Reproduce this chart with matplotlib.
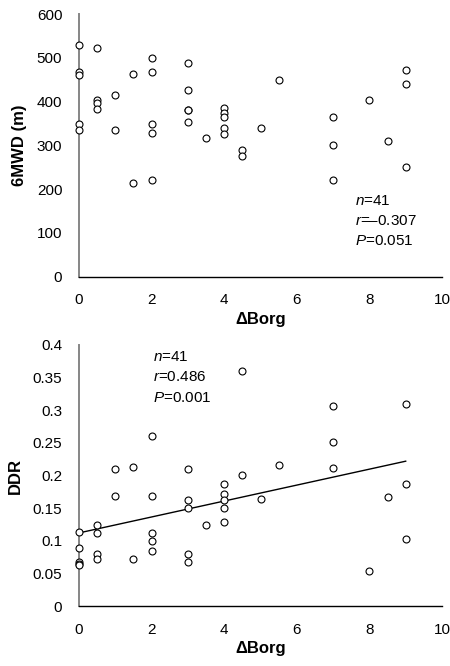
import numpy as np
import matplotlib
matplotlib.use("Agg")
import matplotlib.pyplot as plt

plt.rcParams['font.family'] = ['Liberation Sans', 'DejaVu Sans']
plt.rcParams['mathtext.fontset'] = 'custom'
plt.rcParams['mathtext.rm'] = 'Liberation Sans'
plt.rcParams['mathtext.it'] = 'Liberation Sans:italic'

# Top panel: delta Borg vs 6MWD
borg_top = [0, 0, 0, 0, 0,
            0.5, 0.5, 0.5, 0.5,
            1, 1,
            1.5, 1.5,
            2, 2, 2, 2, 2,
            3, 3, 3, 3, 3,
            3.5,
            4, 4, 4, 4, 4,
            4.5, 4.5,
            5,
            5.5,
            7, 7, 7,
            8,
            8.5,
            9, 9, 9]
mwd = [529, 468, 461, 349, 336,
       522, 404, 396, 382,
       414, 336,
       464, 215,
       499, 468, 349, 328, 222,
       488, 426, 381, 380, 353,
       317,
       385, 375, 364, 339, 325,
       289, 275,
       339,
       450,
       364, 301, 222,
       404,
       311,
       472, 439, 251]

# Bottom panel: delta Borg vs DDR
borg_bot = [0, 0, 0, 0, 0,
            0.5, 0.5, 0.5, 0.5,
            1, 1,
            1.5, 1.5,
            2, 2, 2, 2, 2,
            3, 3, 3, 3, 3,
            3.5,
            4, 4, 4, 4, 4,
            4.5, 4.5,
            5,
            5.5,
            7, 7, 7,
            8,
            8.5,
            9, 9, 9]
ddr = [0.114, 0.089, 0.068, 0.065, 0.063,
       0.124, 0.112, 0.080, 0.072,
       0.2095, 0.169,
       0.2135, 0.072,
       0.2605, 0.169, 0.112, 0.099, 0.084,
       0.2095, 0.162, 0.150, 0.080, 0.067,
       0.1236,
       0.1875, 0.172, 0.162, 0.150, 0.128,
       0.360, 0.201,
       0.1645,
       0.2156,
       0.3065, 0.2518, 0.2115,
       0.053,
       0.167,
       0.309, 0.1865, 0.1027]

top_stats = ['$\\mathit{n}$=41', '$\\mathit{r}$=\u20130.307', '$\\mathit{P}$=0.051']
bot_stats = ['$\\mathit{n}$=41', '$\\mathit{r}$=0.486', '$\\mathit{P}$=0.001']

W, H = 450, 666
fig = plt.figure(figsize=(W / 100, H / 100), dpi=100)

ax1 = fig.add_axes([79 / W, (H - 276.7) / H, (442 - 79) / W, (276.7 - 14) / H])
ax2 = fig.add_axes([79 / W, (H - 606) / H, (442 - 79) / W, (606 - 345) / H])


def style(ax):
    for s in ['top', 'right']:
        ax.spines[s].set_visible(False)
    ax.spines['left'].set_color('#868686')
    ax.spines['left'].set_linewidth(1.4)
    ax.spines['bottom'].set_color('black')
    ax.spines['bottom'].set_linewidth(1.0)
    ax.tick_params(length=0, labelsize=11, pad=12, colors='black')
    ax.set_xlim(0, 10)
    ax.set_xticks([0, 2, 4, 6, 8, 10])
    ax.set_xlabel('\u0394Borg', fontsize=12, fontweight='bold', labelpad=3)


mk = dict(marker='o', linestyle='none', markersize=5, markerfacecolor='white',
          markeredgecolor='black', markeredgewidth=0.8, clip_on=False, zorder=3)

ax1.plot(borg_top, mwd, **mk)
style(ax1)
ax1.set_ylim(0, 600)
ax1.set_yticks(range(0, 601, 100))
ax1.set_ylabel('6MWD (m)', fontsize=12, fontweight='bold', labelpad=7)
for txt, yv in zip(top_stats, [174, 128, 81]):
    ax1.text(7.6, yv, txt, fontsize=11, va='center', ha='left')

ax2.plot(borg_bot, ddr, **mk)
coef = np.polyfit(borg_bot, ddr, 1)
xl = np.array([min(borg_bot), max(borg_bot)])
ax2.plot(xl, np.polyval(coef, xl), color='black', linewidth=1.0, zorder=2)
style(ax2)
ax2.set_ylim(0, 0.4)
yt = [0, 0.05, 0.1, 0.15, 0.2, 0.25, 0.3, 0.35, 0.4]
ax2.set_yticks(yt)
ax2.set_yticklabels(['0', '0.05', '0.1', '0.15', '0.2', '0.25', '0.3', '0.35', '0.4'])
ax2.set_ylabel('DDR', fontsize=12, fontweight='bold', labelpad=7)
for txt, yv in zip(bot_stats, [0.382, 0.351, 0.319]):
    ax2.text(2.03, yv, txt, fontsize=11, va='center', ha='left')

fig.savefig('out.png', dpi=100)
